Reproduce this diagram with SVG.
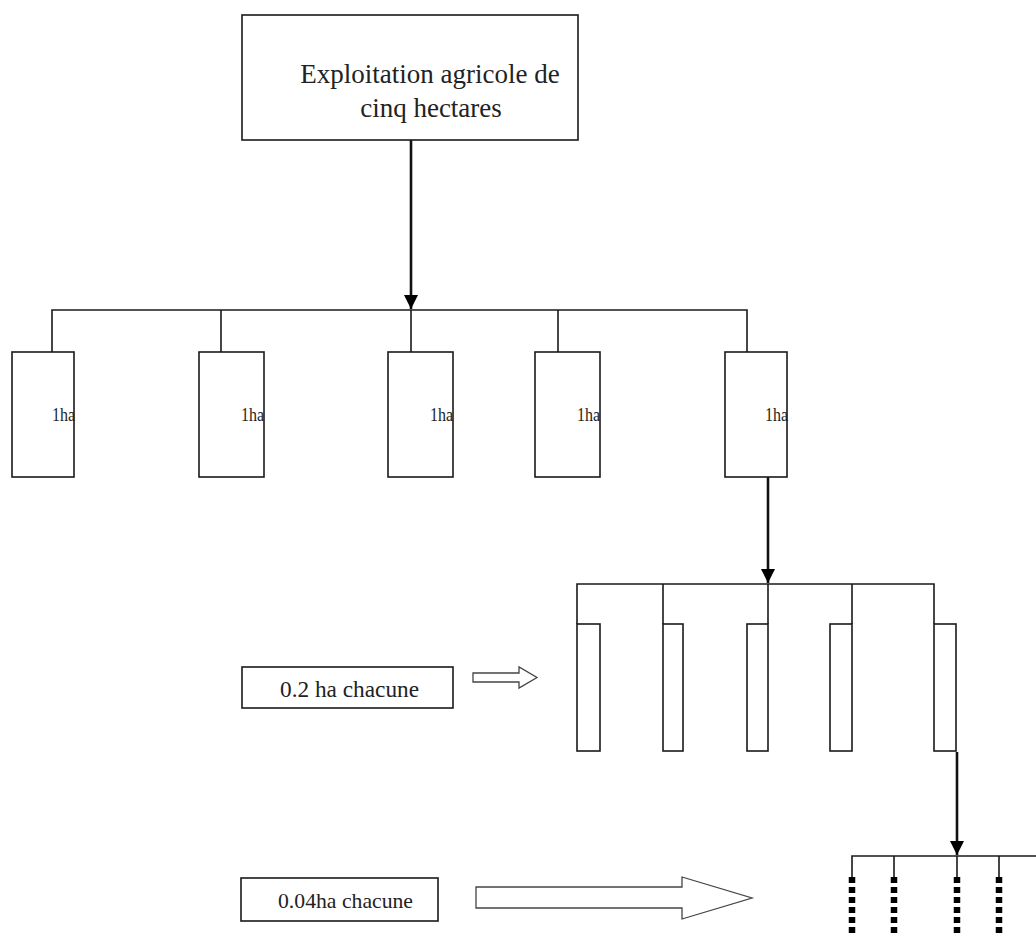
<svg xmlns="http://www.w3.org/2000/svg" width="1036" height="936" viewBox="0 0 1036 936">
<defs>
<style>
.box{fill:#fff;stroke:#1a1a1a;stroke-width:1.6}
.ln{fill:none;stroke:#1a1a1a;stroke-width:1.6}
.thick{fill:none;stroke:#111;stroke-width:2.6}
.dots{fill:none;stroke:#000;stroke-width:6.5;stroke-dasharray:6 4}
.hollow{fill:#fff;stroke:#444;stroke-width:1.3}
.t{font-family:"Liberation Serif","Times New Roman",serif;fill:#222}
</style>
<marker id="ah" markerUnits="userSpaceOnUse" markerWidth="14" markerHeight="15" refX="14" refY="7" orient="auto" viewBox="0 0 14 14">
<path d="M0,0 L14,7 L0,14 z" fill="#000"/>
</marker>
</defs>
<rect width="1036" height="936" fill="#fff"/>

<g id="connectors">
<line class="thick" x1="411" y1="140" x2="411" y2="309" marker-end="url(#ah)"/>
<path class="ln" d="M52,352 V310 H747 V352 M221,310 V352 M411,310 V352 M558,310 V352"/>
<line class="thick" x1="768" y1="477" x2="768" y2="583" marker-end="url(#ah)"/>
<path class="ln" d="M577,624 V584 H934 V624 M663,584 V624 M768,584 V624 M852,584 V624"/>
<line class="thick" x1="957" y1="752" x2="957" y2="855" marker-end="url(#ah)"/>
<path class="ln" d="M852,877 V856 H1036 M894,856 V877 M957,856 V877 M999,856 V877"/>
<path class="dots" d="M852,877 V936 M894,877 V936 M957,877 V936 M999,877 V936"/>
<polygon class="hollow" points="473,673 519,673 519,667 537,677.5 519,688 519,682 473,682"/>
<polygon class="hollow" points="476,887 682,887 682,877 752,898 682,919 682,908 476,908"/>
</g>

<g id="root">
<rect class="box" x="242" y="15" width="336" height="125"/>
<text class="t" font-size="27" x="430" y="83" text-anchor="middle">Exploitation agricole de</text>
<text class="t" font-size="27" x="431" y="117" text-anchor="middle">cinq hectares</text>
</g>

<g id="ha1"><rect class="box" x="12" y="352" width="62" height="125"/><text class="t" font-size="18" x="52" y="421" textLength="23" lengthAdjust="spacingAndGlyphs">1ha</text></g>
<g id="ha2"><rect class="box" x="199" y="352" width="65" height="125"/><text class="t" font-size="18" x="241" y="421" textLength="23" lengthAdjust="spacingAndGlyphs">1ha</text></g>
<g id="ha3"><rect class="box" x="388" y="352" width="65" height="125"/><text class="t" font-size="18" x="430" y="421" textLength="23" lengthAdjust="spacingAndGlyphs">1ha</text></g>
<g id="ha4"><rect class="box" x="535" y="352" width="65" height="125"/><text class="t" font-size="18" x="577" y="421" textLength="23" lengthAdjust="spacingAndGlyphs">1ha</text></g>
<g id="ha5"><rect class="box" x="725" y="352" width="62" height="125"/><text class="t" font-size="18" x="765" y="421" textLength="23" lengthAdjust="spacingAndGlyphs">1ha</text></g>

<g id="p1"><rect class="box" x="577" y="624" width="23" height="127"/></g>
<g id="p2"><rect class="box" x="663" y="624" width="20" height="127"/></g>
<g id="p3"><rect class="box" x="747" y="624" width="21" height="127"/></g>
<g id="p4"><rect class="box" x="830" y="624" width="22" height="127"/></g>
<g id="p5"><rect class="box" x="934" y="624" width="22" height="127"/></g>

<g id="label02">
<rect class="box" x="242" y="667" width="211" height="41"/>
<text class="t" font-size="23" x="280" y="697" textLength="139" lengthAdjust="spacingAndGlyphs">0.2 ha chacune</text>
</g>
<g id="label004">
<rect class="box" x="241" y="878" width="197" height="43"/>
<text class="t" font-size="22" x="278" y="908" textLength="135" lengthAdjust="spacingAndGlyphs">0.04ha chacune</text>
</g>
</svg>
